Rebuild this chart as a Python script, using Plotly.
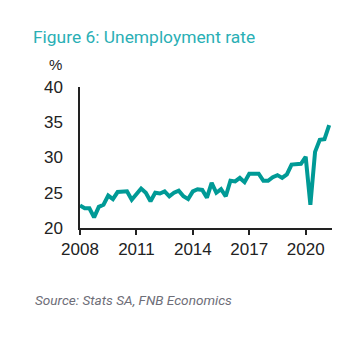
import plotly.graph_objects as go

x_ticks = [2008, 2011, 2014, 2017, 2020]
y_ticks = [20, 25, 30, 35, 40]
quarters = [2008 + i * 0.25 for i in range(54)]
rates = [
    23.2, 22.8, 22.8, 21.5,
    23.0, 23.3, 24.6, 24.1,
    25.1, 25.1, 25.2, 24.0,
    24.9, 25.6, 25.0, 23.8,
    25.0, 24.9, 25.2, 24.5,
    25.0, 25.3, 24.5, 24.1,
    25.2, 25.5, 25.4, 24.3,
    26.4, 25.0, 25.5, 24.5,
    26.7, 26.6, 27.1, 26.5,
    27.7, 27.7, 27.7, 26.7,
    26.7, 27.2, 27.5, 27.1,
    27.6, 29.0, 29.1, 29.1,
    30.1, 23.3, 30.8, 32.5,
    32.6, 34.6,
]

fig = go.Figure(go.Scatter(
    x=quarters, y=rates, mode="lines",
    line=dict(color="#009A96", width=4), hoverinfo="skip"))

W, H = 357, 345
L, R, T, B = 80, 25, 87, 117
pw, ph = W - L - R, H - T - B
fig.update_layout(
    width=W, height=H,
    margin=dict(l=L, r=R, t=T, b=B),
    paper_bgcolor="white", plot_bgcolor="white",
    showlegend=False,
    font=dict(family="Liberation Sans, Arial", size=17, color="#222"),
    title=dict(text="Figure 6: Unemployment rate", x=33 / W, xanchor="left",
               xref="container", y=1 - 37 / H, yanchor="middle", yref="container",
               font=dict(family="Liberation Sans Narrow, Roboto", size=17.4, color="#2AAFB5")),
)
fig.update_xaxes(range=[2008, 2021.4], tickvals=x_ticks, ticktext=[str(v) for v in x_ticks],
                 showgrid=False, zeroline=False, showline=True, linecolor="#222", linewidth=1.5,
                 ticks="outside", ticklen=5, tickwidth=1.5, tickcolor="#222",
                 tickfont=dict(size=17, color="#222"))
fig.update_yaxes(range=[20, 40], tickvals=y_ticks, ticktext=[str(v) for v in y_ticks],
                 showgrid=False, zeroline=False, showline=True, linecolor="#222", linewidth=1.5,
                 ticks="", ticklabelstandoff=12,
                 tickfont=dict(size=17, color="#222"))
fig.add_annotation(text="%", xref="paper", yref="paper", x=(55 - L) / pw,
                   y=1 + (T - 64) / ph, xanchor="center", yanchor="middle",
                   showarrow=False, font=dict(size=15, color="#222"))
fig.add_annotation(text="<i>Source: Stats SA, FNB Economics</i>", xref="paper", yref="paper",
                   x=(33 - L) / pw, y=-(300 - 228) / ph,
                   xanchor="left", yanchor="middle", showarrow=False,
                   font=dict(family="Liberation Sans Narrow, Roboto", size=13.6, color="#6E6E78"))
fig.write_html("out.html")
